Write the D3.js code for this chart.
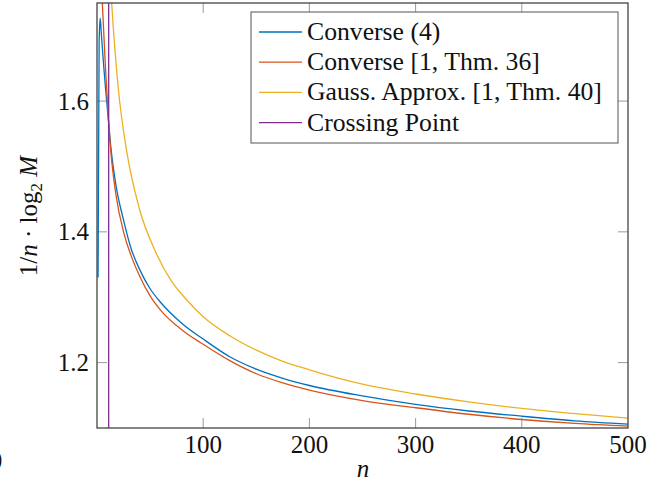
<!DOCTYPE html>
<html><head><meta charset="utf-8">
<script src="https://cdn.jsdelivr.net/npm/d3@7"></script>
<style>body{margin:0;background:#fff}svg{display:block}</style>
</head><body>
<svg id="c" width="668" height="485"></svg>
<script>
const seriesNames = ["Converse (4)", "Converse [1, Thm. 36]", "Gauss. Approx. [1, Thm. 40]", "Crossing Point"];
const seriesColors = ["#0072BD", "#D95319", "#EDB120", "#7E2F8E"];
const blueN   = [1,2,3,4,6,8,11,13,18,25,32,40,50,60,80,100,125,150,175,200,250,300,350,400,450,500];
const blueV   = [1.33,1.69,1.727,1.705,1.66,1.62,1.566,1.53,1.47,1.418,1.375,1.343,1.313,1.292,1.26,1.236,1.209,1.19,1.176,1.165,1.149,1.136,1.126,1.118,1.111,1.106];
const orangeN = [3,4,5,8,11,13,18,25,32,40,50,60,80,100,125,150,175,200,250,300,350,400,450,500];
const orangeV = [1.82,1.78,1.75,1.65,1.566,1.523,1.455,1.4,1.364,1.333,1.302,1.28,1.25,1.228,1.203,1.183,1.169,1.158,1.142,1.131,1.121,1.113,1.107,1.103];
const yellowN = [12,14,20,28,40,55,70,85,100,125,150,175,200,250,300,350,400,450,500];
const yellowV = [1.8,1.745,1.62,1.523,1.435,1.37,1.325,1.295,1.27,1.241,1.219,1.202,1.189,1.167,1.152,1.14,1.13,1.122,1.115];
const crossingN = [11];
const xTicks = [100,200,300,400,500];
const yTicks = [1.2,1.4,1.6];

const svg = d3.select("#c");
const L=97, R=628, T=3, B=428;
const x = d3.scaleLinear().domain([0,500]).range([L,R]);
const y = d3.scaleLinear().domain([1.1,1.75]).range([B,T]);
const font = "'Liberation Serif','Times New Roman',serif";

svg.append("defs").append("clipPath").attr("id","clip")
  .append("rect").attr("x",L).attr("y",T).attr("width",R-L).attr("height",B-T);

// ticks (inward, all four sides)
const tk = svg.append("g").attr("stroke","#999").attr("stroke-width",1);
xTicks.filter(v=>v<500).forEach(v=>{
  tk.append("line").attr("x1",x(v)).attr("x2",x(v)).attr("y1",B).attr("y2",B-10);
  tk.append("line").attr("x1",x(v)).attr("x2",x(v)).attr("y1",T).attr("y2",T+10);
});
yTicks.forEach(v=>{
  tk.append("line").attr("x1",L).attr("x2",L+10).attr("y1",y(v)).attr("y2",y(v));
  tk.append("line").attr("x1",R).attr("x2",R-10).attr("y1",y(v)).attr("y2",y(v));
});

// curves
const g = svg.append("g").attr("clip-path","url(#clip)");
const line = d3.line().x(d=>x(d[0])).y(d=>y(d[1])).curve(d3.curveMonotoneX);
const sets = [[blueN,blueV],[orangeN,orangeV],[yellowN,yellowV]];
sets.forEach((s,i)=>{
  g.append("path").datum(s[0].map((n,j)=>[n,s[1][j]]))
   .attr("d",line).attr("fill","none").attr("stroke",seriesColors[i]).attr("stroke-width",1.3);
});
crossingN.forEach(n=>{
  g.append("line").attr("x1",x(n)).attr("x2",x(n)).attr("y1",T).attr("y2",B)
   .attr("stroke",seriesColors[3]).attr("stroke-width",1.3);
});

// frame
svg.append("rect").attr("x",L).attr("y",T).attr("width",R-L).attr("height",B-T)
  .attr("fill","none").attr("stroke","#444").attr("stroke-width",1.3);

// tick labels
const lab = svg.append("g").attr("font-family",font).attr("font-size",25).attr("fill","#111");
xTicks.forEach(v=>{
  lab.append("text").attr("x",x(v)).attr("y",453).attr("text-anchor","middle").text(d3.format("d")(v));
});
lab.append("text").attr("x",-4).attr("y",469).attr("text-anchor","middle").text("0");
yTicks.forEach(v=>{
  lab.append("text").attr("x",89).attr("y",y(v)+8.5).attr("text-anchor","end").text(d3.format(".1f")(v));
});

// axis labels
lab.append("text").attr("x",363).attr("y",477).attr("text-anchor","middle")
  .attr("font-style","italic").text("n");
const yl = lab.append("text").attr("transform","translate(37,216) rotate(-90)").attr("text-anchor","middle");
yl.append("tspan").text("1/");
yl.append("tspan").attr("font-style","italic").text("n");
yl.append("tspan").text(" · log");
yl.append("tspan").attr("font-size",17).attr("dy",5).text("2");
yl.append("tspan").attr("font-style","italic").attr("dy",-5).text(" M");

// legend
const lg = svg.append("g");
lg.append("rect").attr("x",251).attr("y",12).attr("width",367).attr("height",131)
  .attr("fill","#fff").attr("stroke","#555").attr("stroke-width",1);
seriesNames.forEach((name,i)=>{
  const by = 40 + i*30.2;
  lg.append("line").attr("x1",259).attr("x2",302).attr("y1",by-8).attr("y2",by-8)
    .attr("stroke",seriesColors[i]).attr("stroke-width",1.3);
  lg.append("text").attr("x",307).attr("y",by).attr("font-family",font).attr("font-size",25.7)
    .attr("fill","#111").text(name);
});
</script>
</body></html>
